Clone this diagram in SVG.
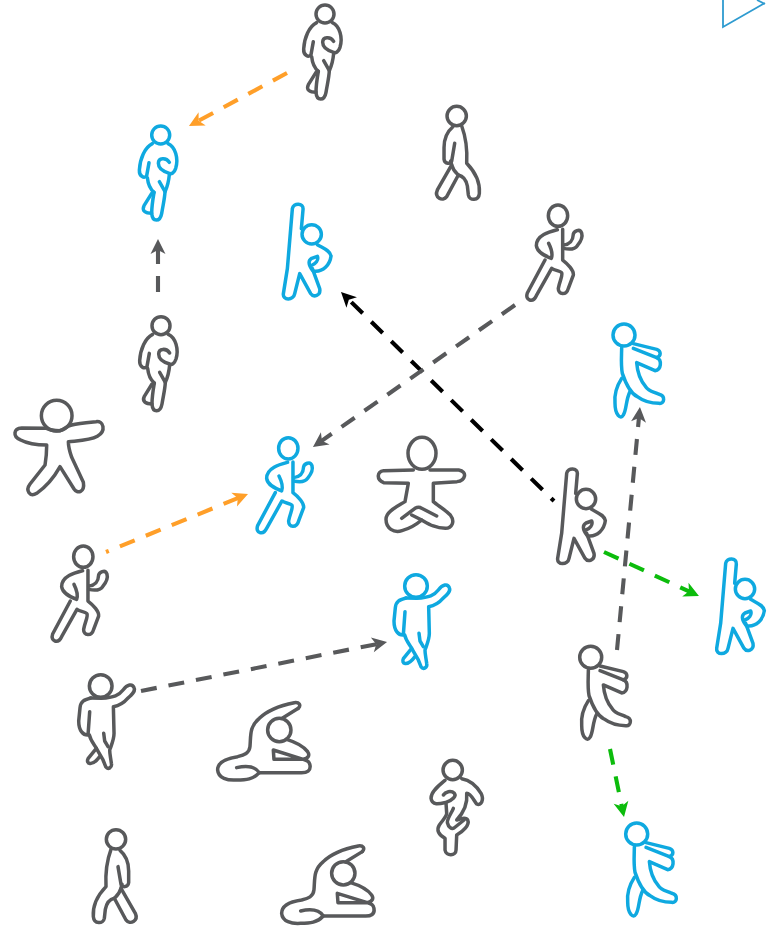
<svg xmlns="http://www.w3.org/2000/svg" xmlns:xlink="http://www.w3.org/1999/xlink" width="771" height="926" viewBox="0 0 771 926">
<style>
.fig *{fill:none;stroke-width:10.5;stroke-linecap:round;stroke-linejoin:round}
.g{stroke:#58595b}
.b{stroke:#0fa9e0}
.c{fill:none;stroke-width:4.1;stroke-dasharray:16 12}
.ht{fill:#58595b}.hk{fill:#000}.ho{fill:#ff9f29}.hg{fill:#0cbc0c}
</style>
<defs>
<marker id="mg" markerUnits="userSpaceOnUse" markerWidth="20" markerHeight="20" refX="10" refY="10" orient="auto" overflow="visible"><path class="ht" d="M18,10 L3,2.5 L7,10 L3,17.5Z"/></marker>
<marker id="mk" markerUnits="userSpaceOnUse" markerWidth="20" markerHeight="20" refX="10" refY="10" orient="auto" overflow="visible"><path class="hk" d="M18,10 L3,2.5 L7,10 L3,17.5Z"/></marker>
<marker id="mo" markerUnits="userSpaceOnUse" markerWidth="20" markerHeight="20" refX="10" refY="10" orient="auto" overflow="visible"><path class="ho" d="M18,10 L3,2.5 L7,10 L3,17.5Z"/></marker>
<marker id="mn" markerUnits="userSpaceOnUse" markerWidth="20" markerHeight="20" refX="10" refY="10" orient="auto" overflow="visible"><path class="hg" d="M18,10 L3,2.5 L7,10 L3,17.5Z"/></marker>
<g id="jog" class="fig" transform="scale(.3333)">
<circle r="27"/>
<path d="M-25,26 C-48,38 -62,70 -64,105 C-65,125 -48,132 -42,122 L-35,83"/>
<path d="M-40,128 C-38,148 -32,162 -20,172"/>
<path d="M-27,175 L-50,212 C-58,228 -45,235 -27,235"/>
<path d="M-20,172 C-24,195 -27,215 -27,235 C-25,262 -2,262 3,235 C8,205 12,190 13,170 C20,155 24,140 26,118"/>
<path d="M22,26 C44,36 54,70 45,100 C40,115 32,118 26,115 C8,110 -7,100 -7,85 C-7,68 16,66 26,82"/>
<path d="M-4,140 L13,170"/>
</g>
<g id="walk" class="fig" transform="scale(.3333)">
<circle r="29"/>
<path d="M-12,33 C-30,48 -38,70 -38,95 L-38,130 C-36,145 -18,145 -15,135 L-6,82"/>
<path d="M-15,147 L-58,222 C-68,245 -42,258 -30,242 L5,177 C18,180 28,190 32,210 L35,237 C38,255 66,255 68,232 C70,205 62,175 30,142 C32,105 28,65 15,30"/>
<path d="M-18,135 L-15,147 C-10,165 0,172 5,177"/>
</g>
<g id="run" class="fig" transform="scale(.3333)">
<ellipse rx="29" ry="32"/>
<path d="M-2,42 C-25,48 -65,58 -65,90 C-63,110 -40,120 -20,128 C-15,115 -22,95 -28,83"/>
<path d="M-39,133 L-92,232 C-100,255 -75,262 -65,240 L-19,158 C-10,165 8,165 11,171 C15,180 5,195 1,218 C0,238 25,240 31,218 L46,178 C48,165 30,145 14,133 L14,41"/>
<path d="M16,98 C35,102 50,102 58,90 C68,78 75,65 71,52 C65,36 48,48 46,55 C45,72 40,85 16,88"/>
</g>
<g id="stretch" class="fig" transform="scale(.3333)">
<circle r="29"/>
<path d="M-31,-17 L-26,-75 C-24,-95 -55,-95 -58,-77 L-73,103 L-85,178 C-88,198 -55,200 -51,178 L-36,118 L-3,178 C5,190 28,185 24,163 L2,103"/>
<path d="M17,31 C35,42 55,48 58,65 C55,90 35,115 4,110 C-12,90 -10,78 0,72 L17,66 C22,78 10,88 2,92"/>
</g>
<g id="point" class="fig" transform="scale(.3333)">
<circle r="34"/>
<path d="M-30,36 C-50,42 -60,45 -62,65 L-66,105 C-66,135 -52,148 -38,147 L-33,77"/>
<path d="M-34,147 C-30,165 -20,175 -13,187 L-38,218 C-45,232 -28,245 -3,212"/>
<path d="M-13,187 L7,222 L15,242 C22,252 35,245 32,232 C30,215 27,205 27,192 C35,170 40,160 40,142 L38,62 C60,58 70,50 80,38 C95,25 105,15 100,5 C95,-8 80,-5 67,12 C55,28 40,34 2,37 L-30,36"/>
<path d="M9,142 L12,165 L22,182"/>
</g>
<g id="star" class="fig" transform="scale(.3333)">
<circle r="46"/>
<path d="M-30,38 L-105,37 C-130,38 -132,62 -110,72 C-85,85 -60,88 -30,88 C-30,110 -32,130 -35,148 L-80,205 C-95,225 -80,245 -60,233 C-30,212 -5,180 10,153 L52,220 C62,235 85,230 80,200 L45,125 C38,105 35,90 35,78 C65,75 100,75 122,62 C150,45 140,15 118,18 C95,20 65,22 45,28 C30,32 25,38 10,45 C-5,45 -18,45 -30,38Z"/>
</g>
<g id="lotus" class="fig" transform="scale(.3333)">
<ellipse rx="42" ry="48"/>
<path d="M-26,50 L-115,52 C-135,55 -138,78 -115,88 L-41,90 L-51,145 C-75,160 -108,175 -108,198 C-108,225 -85,240 -60,232 C-35,225 -15,212 -1,200 C20,212 40,225 70,225 C90,225 100,205 85,185 C70,170 45,155 34,145 L34,90 L105,85 C130,82 138,55 110,50 L24,50"/>
<path d="M-61,195 L-21,165 C-12,160 -5,162 -1,165 L44,188"/>
<path d="M-31,185 L-1,200"/>
</g>
<g id="bend" class="fig" transform="scale(.3333)">
<circle r="35"/>
<path d="M57,-65 C66,-75 60,-84 45,-82 C10,-75 -35,-60 -60,-35 C-90,-10 -85,15 -88,50 C-90,70 -105,75 -125,80 C-160,85 -185,95 -185,120 C-183,145 -155,152 -128,150 C-100,150 -78,148 -60,128 L60,128 C85,130 95,122 92,105 C90,95 85,92 72,88 L-16,88 L-18,60 L72,88 C88,85 92,75 85,65 C70,45 45,35 22,28"/>
<path d="M57,-65 L10,-36"/>
<path d="M-128,113 C-105,108 -75,105 -60,128"/>
</g>
<g id="flamingo" class="fig" transform="scale(.3333)">
<circle r="29"/>
<path d="M-23,31 C-40,45 -66,65 -65,85 C-62,108 -40,102 -20,97 C0,90 12,78 5,70 C-5,60 -22,65 -28,75"/>
<path d="M27,26 C50,30 70,45 85,70 C95,90 85,108 72,102 C65,95 55,70 42,70 C45,100 35,125 12,150 C25,145 40,140 45,150 C52,165 30,185 12,195 L10,240 C10,258 -20,260 -23,240 L-23,205 C-42,195 -50,180 -40,165 C-30,150 -18,140 -18,130 L-20,100"/>
<path d="M2,115 C-3,128 -18,148 -16,158 C-13,172 -3,178 4,174 L34,150"/>
</g>
<g id="zombie" class="fig" transform="scale(.3333)">
<circle r="33"/>
<path d="M28,26 L98,43 C112,48 112,63 98,68 L28,40"/>
<path d="M98,68 C115,75 112,105 93,107 L38,83 C40,110 48,135 65,155 C75,170 90,170 105,178 C125,182 122,208 105,205 C85,205 60,200 40,185 C20,175 5,145 -5,115 C-10,90 -7,60 -7,38"/>
<path d="M-7,130 C-20,150 -30,175 -27,205 C-27,240 -10,255 -2,240 C8,225 5,195 18,170"/>
</g>
</defs>
<g id="connectors">
<path class="c" stroke="#58595b" marker-end="url(#mg)" d="M158,292 L158,247"/>
<path class="c" stroke="#ff9f29" marker-end="url(#mo)" d="M287,73 L196,122.2"/>
<path class="c" stroke="#000" marker-end="url(#mk)" d="M554,501 L346.7,297.6" stroke-dashoffset="12"/>
<path class="c" stroke="#58595b" marker-end="url(#mg)" d="M515,305 L319.5,442.4"/>
<path class="c" stroke="#ff9f29" marker-end="url(#mo)" d="M106,552 L240.6,497" stroke-dashoffset="13"/>
<path class="c" stroke="#58595b" marker-end="url(#mg)" d="M141,691 L379.2,643.6"/>
<path class="c" stroke="#0cbc0c" marker-end="url(#mn)" d="M604,552 L691.7,592.6"/>
<path class="c" stroke="#58595b" marker-end="url(#mg)" d="M617,650 L639.2,415"/>
<path class="c" stroke="#0cbc0c" marker-end="url(#mn)" d="M610,749 L622.4,809.2"/>
</g>
<g id="n1" class="g" transform="translate(325,14)"><use href="#jog"/></g>
<g id="n2" class="b" transform="translate(160.7,135)"><use href="#jog"/></g>
<g id="n3" class="g" transform="translate(161,325.7)"><use href="#jog"/></g>
<g id="n4" class="g" transform="translate(456.7,116)"><use href="#walk"/></g>
<g id="n5" class="g" transform="translate(116,839.3) scale(-1,1)"><use href="#walk"/></g>
<g id="n6" class="g" transform="translate(558,215.7)"><use href="#run"/></g>
<g id="n7" class="b" transform="translate(288.3,448.3)"><use href="#run"/></g>
<g id="n8" class="g" transform="translate(83.3,556.7)"><use href="#run"/></g>
<g id="n9" class="g" transform="translate(586,499)"><use href="#stretch"/></g>
<g id="n10" class="b" transform="translate(311.7,234.3)"><use href="#stretch"/></g>
<g id="n11" class="b" transform="translate(745,589)"><use href="#stretch"/></g>
<g id="n12" class="b" transform="translate(416,586)"><use href="#point"/></g>
<g id="n13" class="g" transform="translate(100.7,686)"><use href="#point"/></g>
<g id="n14" class="g" transform="translate(56.7,415.7)"><use href="#star"/></g>
<g id="n15" class="g" transform="translate(422,453.3)"><use href="#lotus"/></g>
<g id="n16" class="g" transform="translate(279.3,730)"><use href="#bend"/></g>
<g id="n17" class="g" transform="translate(343.3,873.3)"><use href="#bend"/></g>
<g id="n18" class="g" transform="translate(452.7,770)"><use href="#flamingo"/></g>
<g id="n19" class="b" transform="translate(624,335)"><use href="#zombie"/></g>
<g id="n20" class="g" transform="translate(590.7,657.3)"><use href="#zombie"/></g>
<g id="n21" class="b" transform="translate(636.7,834)"><use href="#zombie"/></g>
<g id="n22"><path d="M723,0 V27 L765,3 M757,0 L765,4" fill="none" stroke="#2e9bd0" stroke-width="1.8"/></g>
</svg>
